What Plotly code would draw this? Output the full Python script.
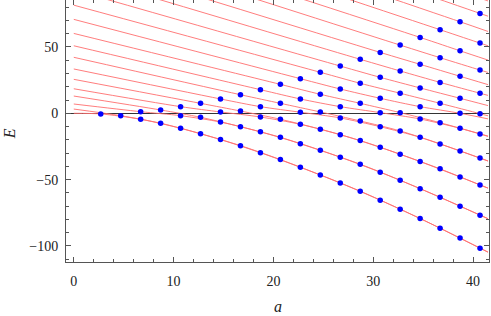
import plotly.graph_objects as go

# dot columns (a positions) and the dot energies in each column (ascending)
a_cols = [2.7, 4.7, 6.7, 8.7, 10.7, 12.7, 14.7, 16.7, 18.7, 20.7,
          22.7, 24.7, 26.7, 28.7, 30.7, 32.7, 34.7, 36.7, 38.7, 40.7]
dots_by_col = [
    [-0.5],
    [-1.8],
    [-4.5, 1.2],
    [-7.5, 2.5],
    [-11.3, -1.8, 5.0],
    [-15.4, -3.0, 7.5],
    [-19.8, -6.6, 1.0, 10.8],
    [-24.4, -10.1, 1.7, 14.0],
    [-29.7, -14.0, -2.8, 5.0, 17.8],
    [-34.9, -18.1, -4.5, 7.5, 21.8],
    [-40.7, -22.9, -8.3, 0.8, 10.8, 26.1],
    [-46.5, -27.9, -12.0, 1.0, 14.3, 30.9],
    [-52.5, -33.1, -16.1, -3.5, 5.0, 18.3, 35.6],
    [-58.7, -38.4, -20.6, -5.8, 7.5, 22.6, 40.7],
    [-65.5, -44.4, -25.6, -10.1, 0.5, 11.3, 27.1, 45.9],
    [-72.3, -50.5, -30.9, -13.3, 0.5, 15.1, 31.9, 51.4],
    [-79.3, -56.8, -36.4, -18.1, -4.3, 5.0, 19.1, 36.9, 57.2],
    [-86.6, -63.3, -41.9, -23.1, -7.1, 7.5, 23.3, 41.9, 63.0],
    [-94.1, -70.0, -48.0, -28.4, -11.3, 0.0, 11.3, 27.9, 47.1, 69.0],
    [-101.7, -76.8, -54.0, -33.7, -15.6, -0.3, 15.1, 32.6, 52.9, 75.3],
]

# red curves: value at a = 0 (start) and at right edge a = 41.5 (end)
line_a_start = 0.0
line_a_end = 41.5
line_E_start = [0.0, 3.2, 7.0, 13.0, 18.5, 25.6, 33.4, 42.2, 50.9, 60.2, 70.8,
                81.5, 93.0, 105.0, 117.0, 130.0, 142.0, 155.0, 168.0, 181.0, 194.0]
line_E_end = [-104.6, -104.7, -79.4, -79.5, -56.4, -56.4, -36.0, -35.9, -17.2,
              -17.4, -4.2, -1.9, 5.8, 13.5, 21.6, 30.8, 40.1, 50.9, 61.7, 73.2, 84.7]

x_ticks = [0, 10, 20, 30, 40]
y_ticks = [-100, -50, 0, 50]

fig = go.Figure()

for n in range(len(line_E_start)):
    xs = [line_a_start]
    ys = [line_E_start[n]]
    for k, a in enumerate(a_cols):
        if k >= n and (k - n) % 2 == 0:
            xs.append(a)
            ys.append(dots_by_col[k][(n - k % 2) // 2])
    xs.append(line_a_end)
    ys.append(line_E_end[n])
    fig.add_trace(go.Scatter(x=xs, y=ys, mode="lines",
                             line=dict(color="rgb(255,110,110)", width=0.9, shape="spline", smoothing=0.8),
                             hoverinfo="skip", showlegend=False))

dx, dy = [], []
for a, col in zip(a_cols, dots_by_col):
    for e in col:
        dx.append(a)
        dy.append(e)
fig.add_trace(go.Scatter(x=dx, y=dy, mode="markers",
                         marker=dict(color="#0000ff", size=5.5, line=dict(width=0)),
                         showlegend=False))

serif = "Liberation Serif, DejaVu Serif, serif"
tickfont = dict(family=serif, size=14, color="#222")
axis_common = dict(showgrid=False, showline=True, linecolor="#555", linewidth=1,
                   mirror="ticks", ticks="inside", tickcolor="#555", tickwidth=1,
                   tickfont=tickfont, automargin=False)

fig.update_xaxes(range=[-0.78, 41.6], tickvals=x_ticks, ticklen=5, zeroline=False,
                 minor=dict(dtick=2, tick0=0, ticks="inside", ticklen=3, tickcolor="#555"),
                 ticklabelstandoff=6, **axis_common)
fig.update_yaxes(range=[-112.1, 85.4], tickvals=y_ticks,
                 ticktext=["\u2212100", "\u221250", "0", "50"], ticklen=5,
                 zeroline=True, zerolinecolor="#333", zerolinewidth=1.4,
                 minor=dict(dtick=10, tick0=0, ticks="inside", ticklen=3, tickcolor="#555"),
                 ticklabelstandoff=4, **axis_common)

fig.add_annotation(text="<i>a</i>", xref="paper", yref="paper", x=0.5, y=-0.17,
                   yanchor="middle", xanchor="center", showarrow=False,
                   font=dict(family=serif, size=16, color="#222"))
fig.add_annotation(text="<i>E</i>", xref="paper", yref="paper", x=-0.133, y=0.49,
                   yanchor="middle", xanchor="center", showarrow=False, textangle=-90,
                   font=dict(family=serif, size=16, color="#222"))

fig.update_layout(width=491, height=316, margin=dict(l=66, r=2, t=0, b=54),
                  plot_bgcolor="white", paper_bgcolor="white")

fig.write_html("out.html", config={"displayModeBar": False},
               post_script="document.body.style.margin='0';")
